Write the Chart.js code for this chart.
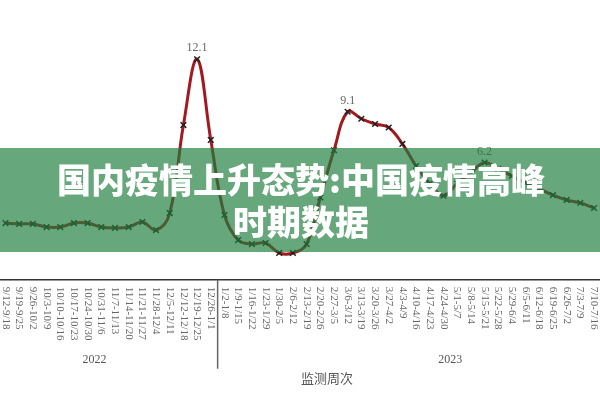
<!DOCTYPE html>
<html>
<head>
<meta charset="utf-8">
<script src="https://cdn.jsdelivr.net/npm/chart.js@4"></script>
<style>
  body { margin: 0; background: #fff; }
  #wrap { width: 600px; height: 400px; position: relative; }
</style>
</head>
<body>
<div id="wrap"><canvas id="chart"></canvas></div>
<script>
// weeks, 2022 part then 2023 part
const weeks2022 = ['9/12-9/18', '9/19-9/25', '9/26-10/2', '10/3-10/9', '10/10-10/16', '10/17-10/23',
    '10/24-10/30', '10/31-11/6', '11/7-11/13', '11/14-11/20', '11/21-11/27', '11/28-12/4',
    '12/5-12/11', '12/12-12/18', '12/19-12/25', '12/26-1/1'];
const weeks2023 = ['1/2-1/8', '1/9-1/15', '1/16-1/22', '1/23-1/29', '1/30-2/5', '2/6-2/12', '2/13-2/19',
    '2/20-2/26', '2/27-3/5', '3/6-3/12', '3/13-3/19', '3/20-3/26', '3/27-4/2', '4/3-4/9', '4/10-4/16',
    '4/17-4/23', '4/24-4/30', '5/1-5/7', '5/8-5/14', '5/15-5/21', '5/22-5/28', '5/29-6/4', '6/5-6/11',
    '6/12-6/18', '6/19-6/25', '6/26-7/2', '7/3-7/9', '7/10-7/16'];
const weeks = weeks2022.concat(weeks2023);

// weekly values
const values = [2.74, 2.69, 2.69, 2.51, 2.51, 2.74, 2.74, 2.51, 2.46, 2.51, 2.8, 2.34,
    3.31, 8.34, 12.1, 7.49, 3.2, 1.77, 1.54, 1.6, 1.03, 1.03, 1.54, 4.2,
    6.9, 9.1, 8.7, 8.4, 8.2, 7.26, 6.0, 5.0, 4.3, 5.0, 5.6, 6.2,
    5.83, 5.43, 5.03, 4.69, 4.34, 4.06, 3.89, 3.6];

// points that carry a value label
const labelled = [14, 25, 35];

const yearNames = ['2022', '2023'];
const axisTitle = '监测周次';
const bannerLines = ['国内疫情上升态势:中国疫情高峰', '时期数据'];

const serif = "'Liberation Serif', 'DejaVu Serif', serif";

const overlayPlugin = {
    id: 'overlay',
    afterDatasetsDraw(chart) {
        const ctx = chart.ctx;
        const xs = chart.scales.x;
        const area = chart.chartArea;
        const meta = chart.getDatasetMeta(0);

        ctx.save();
        // value labels
        ctx.fillStyle = '#666';
        ctx.font = '12px ' + serif;
        ctx.textAlign = 'center';
        ctx.textBaseline = 'bottom';
        labelled.forEach(i => {
            const pt = meta.data[i];
            ctx.fillText(String(values[i]), pt.x, pt.y - 5);
        });

        // x axis line
        ctx.strokeStyle = '#333';
        ctx.lineWidth = 1.5;
        ctx.beginPath();
        ctx.moveTo(0, area.bottom);
        ctx.lineTo(chart.width, area.bottom);
        ctx.stroke();

        // week labels, rotated clockwise
        ctx.fillStyle = '#666';
        ctx.font = '11px ' + serif;
        ctx.textAlign = 'left';
        ctx.textBaseline = 'middle';
        weeks.forEach((w, i) => {
            const x = xs.getPixelForValue(i);
            ctx.save();
            ctx.translate(x, area.bottom + 7);
            ctx.rotate(Math.PI / 2);
            ctx.fillText(w, 0, 0);
            ctx.restore();
        });

        // year separator
        const n = weeks2022.length;
        const sepX = (xs.getPixelForValue(n - 1) + xs.getPixelForValue(n)) / 2;
        ctx.strokeStyle = '#666';
        ctx.lineWidth = 1.5;
        ctx.beginPath();
        ctx.moveTo(sepX, area.bottom);
        ctx.lineTo(sepX, area.bottom + 89);
        ctx.stroke();

        // year names
        ctx.fillStyle = '#555';
        ctx.font = '12px ' + serif;
        ctx.textAlign = 'center';
        ctx.textBaseline = 'middle';
        const mid = (a, b) => (xs.getPixelForValue(a) + xs.getPixelForValue(b)) / 2;
        ctx.fillText(yearNames[0], mid(6, 7), 360);
        ctx.fillText(yearNames[1], mid(32, 33), 360);

        // axis title
        ctx.font = "13px 'Noto Sans CJK SC', sans-serif";
        ctx.fillText(axisTitle, mid(23, 24), 378);

        // green banner over the plot
        ctx.fillStyle = 'rgba(30, 125, 60, 0.68)';
        ctx.fillRect(0, 148, chart.width, 104);
        ctx.fillStyle = '#fff';
        ctx.font = "900 34px 'Noto Sans CJK SC', sans-serif";
        ctx.fillText(bannerLines[0], 301, 180);
        ctx.fillText(bannerLines[1], 301, 222);
        ctx.restore();
    }
};

new Chart(document.getElementById('chart'), {
    type: 'line',
    data: {
        labels: weeks,
        datasets: [{
            data: values,
            borderColor: '#a3191f',
            borderWidth: 3,
            tension: 0.4,
            pointStyle: 'crossRot',
            pointRadius: 4,
            pointBorderWidth: 1.5,
            pointBorderColor: '#222',
            pointBackgroundColor: '#222',
            clip: false
        }]
    },
    options: {
        responsive: true,
        maintainAspectRatio: false,
        animation: false,
        layout: {
            padding: { left: 2, right: 6, top: 17.25, bottom: 120.25 }
        },
        scales: {
            x: { display: false, offset: false },
            y: { display: false, min: -0.5, max: 14.5 }
        },
        plugins: {
            legend: { display: false },
            tooltip: { enabled: false }
        }
    },
    plugins: [overlayPlugin]
});
</script>
</body>
</html>
